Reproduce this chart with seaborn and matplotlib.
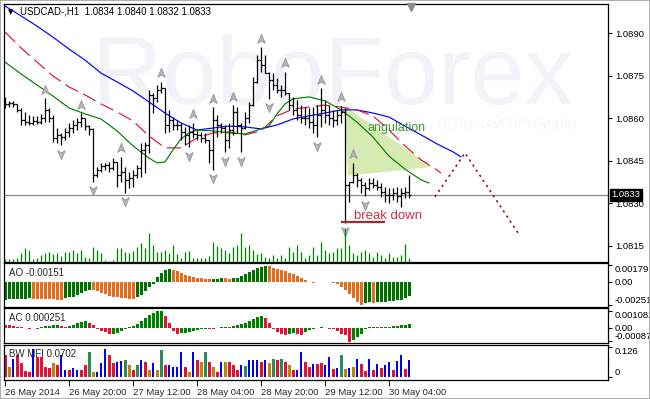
import numpy as np
import matplotlib
matplotlib.use("Agg")
import matplotlib.pyplot as plt
import seaborn as sns
from matplotlib.path import Path
from matplotlib.transforms import ScaledTranslation, blended_transform_factory
from matplotlib.patches import Polygon, Rectangle

# ---------------- data ----------------
title = "USDCAD-,H1  1.0834 1.0840 1.0832 1.0833"
first_open = 1.08640
high = [1.08676, 1.08661, 1.08661, 1.08651, 1.08637, 1.08623, 1.08612, 1.08609, 1.08609, 1.08616,
        1.08672, 1.08637, 1.08612, 1.08566, 1.08549, 1.08566, 1.08584, 1.08594, 1.08602, 1.08619,
        1.08602, 1.08577, 1.08566, 1.08429, 1.08443, 1.08443, 1.08446, 1.08460, 1.08446, 1.08464,
        1.08429, 1.08411, 1.08418, 1.08436, 1.08513, 1.08517, 1.08700, 1.08690, 1.08718, 1.08729,
        1.08707, 1.08630, 1.08605, 1.08594, 1.08584, 1.08570, 1.08577, 1.08584, 1.08559, 1.08552,
        1.08549, 1.08524, 1.08640, 1.08612, 1.08584, 1.08577, 1.08584, 1.08647, 1.08640, 1.08584,
        1.08623, 1.08658, 1.08746, 1.08824, 1.08852, 1.08824, 1.08764, 1.08760, 1.08743, 1.08718,
        1.08764, 1.08690, 1.08676, 1.08665, 1.08647, 1.08640, 1.08637, 1.08640, 1.08647, 1.08707,
        1.08665, 1.08647, 1.08630, 1.08630, 1.08644, 1.08637, 1.08376, 1.08443, 1.08407, 1.08390,
        1.08376, 1.08390, 1.08390, 1.08383, 1.08372, 1.08358, 1.08354, 1.08354, 1.08358, 1.08354,
        1.08358, 1.08400]
low = [1.08637, 1.08640, 1.08640, 1.08623, 1.08577, 1.08577, 1.08577, 1.08577, 1.08580, 1.08580,
       1.08587, 1.08587, 1.08517, 1.08513, 1.08506, 1.08524, 1.08534, 1.08549, 1.08559, 1.08570,
       1.08559, 1.08542, 1.08376, 1.08393, 1.08411, 1.08418, 1.08411, 1.08418, 1.08358, 1.08376,
       1.08337, 1.08354, 1.08358, 1.08390, 1.08393, 1.08407, 1.08478, 1.08619, 1.08658, 1.08690,
       1.08549, 1.08552, 1.08559, 1.08559, 1.08524, 1.08506, 1.08499, 1.08531, 1.08524, 1.08517,
       1.08513, 1.08443, 1.08418, 1.08534, 1.08549, 1.08481, 1.08496, 1.08542, 1.08549, 1.08481,
       1.08563, 1.08584, 1.08644, 1.08725, 1.08764, 1.08760, 1.08669, 1.08700, 1.08690, 1.08676,
       1.08683, 1.08630, 1.08612, 1.08594, 1.08584, 1.08577, 1.08566, 1.08549, 1.08534, 1.08570,
       1.08584, 1.08577, 1.08570, 1.08577, 1.08584, 1.08231, 1.08305, 1.08372, 1.08358, 1.08337,
       1.08326, 1.08347, 1.08354, 1.08347, 1.08323, 1.08305, 1.08301, 1.08312, 1.08305, 1.08287,
       1.08319, 1.08320]
close = [1.08651, 1.08654, 1.08651, 1.08630, 1.08594, 1.08587, 1.08584, 1.08591, 1.08587, 1.08602,
         1.08630, 1.08602, 1.08531, 1.08542, 1.08534, 1.08552, 1.08566, 1.08577, 1.08587, 1.08602,
         1.08573, 1.08563, 1.08400, 1.08418, 1.08432, 1.08436, 1.08425, 1.08446, 1.08400, 1.08411,
         1.08383, 1.08390, 1.08400, 1.08425, 1.08489, 1.08506, 1.08683, 1.08672, 1.08700, 1.08707,
         1.08577, 1.08594, 1.08577, 1.08577, 1.08552, 1.08542, 1.08552, 1.08545, 1.08542, 1.08531,
         1.08524, 1.08489, 1.08594, 1.08577, 1.08566, 1.08524, 1.08559, 1.08623, 1.08577, 1.08566,
         1.08602, 1.08647, 1.08729, 1.08806, 1.08789, 1.08760, 1.08736, 1.08718, 1.08700, 1.08700,
         1.08690, 1.08647, 1.08630, 1.08612, 1.08602, 1.08602, 1.08587, 1.08577, 1.08612, 1.08630,
         1.08612, 1.08602, 1.08594, 1.08612, 1.08623, 1.08365, 1.08376, 1.08400, 1.08383, 1.08365,
         1.08354, 1.08372, 1.08365, 1.08358, 1.08340, 1.08330, 1.08330, 1.08337, 1.08326, 1.08337,
         1.08340, 1.08330]
volume = [300, 300, 300, 400, 900, 1400, 1200, 300, 400, 700,
          900, 1000, 800, 900, 600, 1000, 1000, 1200, 900, 1200,
          500, 400, 1500, 1200, 900, 200, 150, 200, 1400, 1400,
          1000, 900, 1100, 1500, 1900, 1400, 2900, 1700, 1000, 1000,
          1200, 900, 1700, 800, 400, 1000, 1100, 400, 400, 400,
          400, 600, 2000, 1600, 1400, 1200, 900, 1500, 1700, 2900,
          1500, 1700, 1200, 800, 900, 500, 400, 700, 400, 700,
          400, 1500, 1000, 1700, 1000, 400, 700, 1500, 700, 2000,
          1200, 900, 1000, 1400, 1400, 3400, 1700, 900, 700, 1000,
          1200, 900, 500, 1000, 700, 400, 900, 500, 500, 700,
          1800, 400]

ao_before = -0.00194
ao = [-0.00192, -0.00190, -0.00188, -0.00187, -0.00185, -0.00183, -0.00180, -0.00182, -0.00184, -0.00186,
      -0.00187, -0.00188, -0.00190, -0.00192, -0.00193, -0.00180, -0.00170, -0.00160, -0.00145, -0.00125,
      -0.00100, -0.00085, -0.00090, -0.00105, -0.00120, -0.00135, -0.00150, -0.00160, -0.00170, -0.00175,
      -0.00180, -0.00182, -0.00183, -0.00165, -0.00140, -0.00105, -0.00060, -0.00020, 0.00045, 0.00090,
      0.00125, 0.00140, 0.00128, 0.00110, 0.00092, 0.00075, 0.00060, 0.00050, 0.00042, 0.00036,
      0.00030, 0.00025, 0.00030, 0.00033, 0.00036, 0.00034, 0.00032, 0.00036, 0.00042, 0.00060,
      0.00080, 0.00105, 0.00130, 0.00150, 0.00162, 0.00168, 0.00166, 0.00150, 0.00135, 0.00120,
      0.00110, 0.00095, 0.00080, 0.00060, 0.00040, 0.00020, -0.00005, -0.00010, -0.00008, -0.00006,
      -0.00004, -0.00008, -0.00015, -0.00030, -0.00055, -0.00090, -0.00130, -0.00175, -0.00215, -0.00250,
      -0.00230, -0.00222, -0.00226, -0.00222, -0.00218, -0.00214, -0.00210, -0.00205, -0.00200, -0.00193,
      -0.00180, -0.00151]

ac_before = 0.00025
ac = [0.00020, 0.00015, 0.00010, 0.00006, 0.00004, -0.00004, -0.00006, -0.00004, -0.00006, 0.00004,
      0.00008, 0.00012, 0.00016, 0.00018, 0.00012, 0.00006, 0.00010, 0.00018, 0.00028, 0.00036,
      0.00040, 0.00030, 0.00015, -0.00010, -0.00022, -0.00030, -0.00042, -0.00040, -0.00032, -0.00020,
      -0.00008, 0.00004, 0.00012, 0.00024, 0.00040, 0.00060, 0.00080, 0.00095, 0.00106, 0.00108,
      0.00075, 0.00028, -0.00025, -0.00040, -0.00038, -0.00033, -0.00028, -0.00022, -0.00015, -0.00010,
      -0.00006, -0.00008, -0.00010, -0.00005, 0.00004, 0.00005, 0.00004, 0.00008, 0.00014, 0.00022,
      0.00032, 0.00042, 0.00055, 0.00066, 0.00075, 0.00060, 0.00030, -0.00010, -0.00030, -0.00040,
      -0.00045, -0.00040, -0.00035, -0.00042, -0.00048, -0.00030, -0.00015, -0.00006, -0.00004, 0.00004,
      -0.00004, -0.00006, -0.00012, -0.00022, -0.00040, -0.00048, -0.00092, -0.00080, -0.00060, -0.00040,
      -0.00012, 0.00005, 0.00006, 0.00004, 0.00005, 0.00007, 0.00005, 0.00010, 0.00012, 0.00015,
      0.00018, 0.000251]

mfi = [0.092, 0.043, 0.076, 0.092, 0.057, 0.025, 0.022, 0.118, 0.085, 0.085,
       0.040, 0.036, 0.057, 0.050, 0.092, 0.029, 0.029, 0.036, 0.029, 0.029,
       0.050, 0.106, 0.022, 0.022, 0.057, 0.118, 0.092, 0.057, 0.064, 0.067,
       0.071, 0.050, 0.029, 0.050, 0.071, 0.064, 0.029, 0.057, 0.029, 0.113,
       0.050, 0.050, 0.043, 0.043, 0.106, 0.043, 0.022, 0.104, 0.071, 0.064,
       0.106, 0.064, 0.043, 0.022, 0.064, 0.064, 0.064, 0.050, 0.029, 0.050,
       0.048, 0.071, 0.071, 0.070, 0.064, 0.071, 0.060, 0.076, 0.071, 0.076,
       0.064, 0.050, 0.029, 0.029, 0.104, 0.064, 0.043, 0.055, 0.055, 0.057,
       0.050, 0.085, 0.034, 0.036, 0.092, 0.032, 0.036, 0.040, 0.076, 0.054,
       0.025, 0.074, 0.029, 0.054, 0.036, 0.050, 0.064, 0.029, 0.067, 0.092,
       0.034, 0.0702]
# S = squat, F = fade, K = fake, G = green
mfi_type = list("SFKSSSSKSS" "SSFSKKSKKS" "SGFKKKSSKK" "GFSGKSFKFG" "SKKKKSFKSF"
                "GSFSKFSSSK" "GKKKSKFGSG" "SFSKKSSKSS" "KKSKGFKFKS" "SKSKSKKSKK" "SK")

jaw_idx = [0, 4, 8, 12, 16, 20, 24, 28, 32, 36, 40, 44, 48, 52, 56, 60, 64, 68, 72, 76,
           80, 84, 88, 92, 96, 100, 104, 108, 112, 114]
jaw = [1.08997, 1.08962, 1.08926, 1.08887, 1.08845, 1.08806, 1.08760, 1.08729, 1.08697, 1.08658,
       1.08619, 1.08584, 1.08559, 1.08566, 1.08573, 1.08570, 1.08563, 1.08577, 1.08598, 1.08609,
       1.08619, 1.08630, 1.08630, 1.08619, 1.08605, 1.08573, 1.08542, 1.08510, 1.08482, 1.08464]
teeth_idx = [0, 4, 8, 12, 16, 20, 24, 28, 32, 36, 40, 44, 48, 52, 56, 60, 64, 68, 72, 76,
             80, 84, 88, 92, 96, 100, 104, 108, 109]
teeth = [1.08905, 1.08849, 1.08799, 1.08750, 1.08711, 1.08683, 1.08651, 1.08623, 1.08591, 1.08538,
         1.08496, 1.08496, 1.08531, 1.08549, 1.08552, 1.08542, 1.08556, 1.08609, 1.08633, 1.08640,
         1.08647, 1.08640, 1.08630, 1.08609, 1.08559, 1.08503, 1.08454, 1.08418, 1.08407]
lips_idx = [0, 4, 8, 12, 16, 20, 24, 28, 32, 36, 38, 40, 42, 44, 46, 48, 52, 56, 60, 64,
            66, 68, 70, 72, 76, 80, 84, 88, 92, 96, 100, 104, 106]
lips = [1.08799, 1.08757, 1.08718, 1.08679, 1.08637, 1.08616, 1.08598, 1.08556, 1.08503, 1.08460,
        1.08443, 1.08446, 1.08489, 1.08527, 1.08549, 1.08559, 1.08556, 1.08549, 1.08545, 1.08563,
        1.08573, 1.08616, 1.08651, 1.08669, 1.08676, 1.08662, 1.08630, 1.08587, 1.08534, 1.08467,
        1.08421, 1.08383, 1.08372]

frac_up = [10, 19, 29, 39, 47, 52, 57, 64, 70, 79, 84, 87]
frac_dn = [14, 22, 30, 46, 52, 55, 59, 66, 78, 85, 90]

price_ticks = [1.0890, 1.0875, 1.0860, 1.0845, 1.0830, 1.0815]
last_price = 1.0833
time_idx = [0, 16, 32, 48, 64, 80, 96]
time_labels = ["26 May 2014", "26 May 20:00", "27 May 12:00", "28 May 04:00",
               "28 May 20:00", "29 May 12:00", "30 May 04:00"]

breakdown_level = 1.08234
breakdown_from, breakdown_to = 84, 95
angle_x = [84.75, 85.75, 106.75]
angle_y = [1.08644, 1.08397, 1.08429]
forecast_x = [107.5, 115, 128.25]
forecast_y = [1.08323, 1.08478, 1.08196]

ao_ticks = [0.00179, 0.0, -0.00251]
ao_labels = ["0.00179", "0.00", "-0.00251"]
ac_ticks = [0.001082, 0.0, -0.00087]
ac_labels = ["0.001082", "0.00", "-0.00087"]
mfi_ticks = [0.126, 0.0]
mfi_labels = ["0.126", "0"]

# ---------------- style ----------------
sns.set_style("white")
plt.rcParams["font.family"] = ["Liberation Sans", "DejaVu Sans"]
FS = 6.8

W, H = 650, 399
fig = plt.figure(figsize=(6.5, 3.99), dpi=100)
fig.patch.set_facecolor("white")


def rect(l, t, r, b):
    return [l / W, 1 - b / H, (r - l) / W, (b - t) / H]


ax = fig.add_axes(rect(4, 4, 608, 262))
axv = fig.add_axes(rect(4, 4, 608, 262), facecolor="none")
ax_ao = fig.add_axes(rect(4, 263, 608, 307))
ax_ac = fig.add_axes(rect(4, 308, 608, 343))
ax_mfi = fig.add_axes(rect(4, 345, 608, 380))
XLIM = (-0.25, 150.75)

for a in (ax, ax_ao, ax_ac, ax_mfi):
    a.set_xlim(*XLIM)
    for s in a.spines.values():
        s.set_color("black")
        s.set_linewidth(0.9)
    a.yaxis.tick_right()
    a.tick_params(axis="y", which="both", left=False, right=True, labelleft=False,
                  labelright=True, length=3, width=0.8, pad=2, labelsize=FS, colors="black",
                  direction="out")
    a.tick_params(axis="x", bottom=False, labelbottom=False)
    a.set_facecolor("white")

idx = np.arange(len(high))
opens = [first_open] + close[:-1]

# ---- volumes (bottom of the main window) ----
axv.set_xlim(*XLIM)
axv.set_ylim(0, 25800)
axv.vlines(idx, 0, volume, color="#008000", lw=0.9)
axv.axis("off")

# ---- main chart ----
ax.set_ylim(1.08093, 1.09004)
ax.set_yticks(price_ticks)
ax.set_yticklabels([f"{p:.4f}" for p in price_ticks])

ax.text(0.146, 0.612, "RoboForex", transform=ax.transAxes, fontsize=70, color="#F2F3F6",
        ha="left", va="baseline", zorder=0)
ax.text(0.949, 0.531, "З – ПОЛУЧАЙ ПРИБЫЛЬ", transform=ax.transAxes, fontsize=10,
        color="#F5F6F8", ha="right", va="center", zorder=0)

ax.add_patch(Polygon(list(zip(angle_x, angle_y)), closed=True, facecolor="#D6EBB2",
                     edgecolor="none", zorder=1))
ax.axhline(last_price, color="#8C8C8C", lw=0.9, zorder=1.5)

sns.lineplot(x=jaw_idx, y=jaw, ax=ax, color="#0000FF", linewidth=0.85, estimator=None,
             sort=False, legend=False, zorder=2)
sns.lineplot(x=teeth_idx, y=teeth, ax=ax, color="#DC143C", linewidth=0.85, estimator=None,
             sort=False, legend=False, zorder=2)
ax.lines[-1].set_linestyle((0, (12, 5)))
sns.lineplot(x=lips_idx, y=lips, ax=ax, color="#008000", linewidth=0.85, estimator=None,
             sort=False, legend=False, zorder=2)

ax.vlines(idx, low, high, color="black", lw=0.9, zorder=3)
ax.hlines(opens, idx - 0.45, idx, color="black", lw=0.9, zorder=3)
ax.hlines(close, idx, idx + 0.45, color="black", lw=0.9, zorder=3)

up_v = [(0, 1), (0.72, -0.75), (0, -0.3), (-0.72, -0.75), (0, 1)]
codes = [Path.MOVETO, Path.LINETO, Path.LINETO, Path.LINETO, Path.CLOSEPOLY]
up_marker = Path(up_v, codes)
dn_marker = Path([(x, -y) for x, y in up_v], codes)
t_up = ax.transData + ScaledTranslation(0, 8.5 / 100, fig.dpi_scale_trans)
t_dn = ax.transData + ScaledTranslation(0, -8.5 / 100, fig.dpi_scale_trans)
ax.plot(frac_up, [high[i] for i in frac_up], ls="none", marker=up_marker, ms=7.5,
        mfc="#B4B4BA", mec="#9696A0", mew=0.6, transform=t_up, zorder=4)
ax.plot(frac_dn, [low[i] for i in frac_dn], ls="none", marker=dn_marker, ms=7.5,
        mfc="#B4B4BA", mec="#9696A0", mew=0.6, transform=t_dn, zorder=4)

ax.hlines(breakdown_level, breakdown_from, breakdown_to, color="#A52A2A", lw=1.6, zorder=4)
ax.text(87.25, 1.08256, "break down", fontsize=9.5, color="#C8324A", ha="left",
        va="center", zorder=5)
ax.text(90.5, 1.08566, "angulation", fontsize=9, color="#3E9A2C", ha="left",
        va="center", zorder=5)
ax.plot(forecast_x, forecast_y, color="#9A0000", lw=1.1, ls=(0, (1.5, 2.5)), zorder=4)

bt = blended_transform_factory(ax.transAxes, ax.transData)
ax.text(1.006, last_price, f"{last_price:.4f}", transform=bt, ha="left", va="center",
        fontsize=FS, color="white", zorder=10, clip_on=False,
        bbox=dict(boxstyle="square,pad=0.18", fc="black", ec="black"))
bt2 = blended_transform_factory(ax.transData, ax.transAxes)
ax.plot([len(high) - 0.5], [0.99], marker="v", ms=5.5, color="#8C8C8C", transform=bt2,
        clip_on=False, zorder=6)

ax.text(16 / 604, (262 - 12) / 258, title, transform=ax.transAxes, fontsize=7,
        ha="left", va="center", color="black", zorder=8)
ax.text(4 / 604, (262 - 12) / 258, "▼", transform=ax.transAxes, fontsize=5,
        ha="left", va="center", color="black", zorder=8, family=["DejaVu Sans"])

# ---- AO ----
ao_prev = [ao_before] + ao[:-1]
ao_cols = ["#007000" if v > p else "#E07020" for v, p in zip(ao, ao_prev)]
ax_ao.bar(idx, ao, width=0.75, color=ao_cols, linewidth=0)
ax_ao.set_ylim(-0.002725, 0.002005)
ax_ao.set_yticks(ao_ticks)
ax_ao.set_yticklabels(ao_labels)
ax_ao.text(5 / 604, 0.77, f"AO {ao[-1]:.5f}", transform=ax_ao.transAxes, fontsize=7,
           ha="left", va="center")

# ---- AC ----
ac_prev = [ac_before] + ac[:-1]
ac_cols = ["#008000" if v > p else "#DC143C" for v, p in zip(ac, ac_prev)]
ax_ac.bar(idx, ac, width=0.75, color=ac_cols, linewidth=0)
ax_ac.set_ylim(-0.0010, 0.001277)
ax_ac.set_yticks(ac_ticks)
ax_ac.set_yticklabels(ac_labels)
ax_ac.text(5 / 604, 0.714, f"AC {ac[-1]:.6f}", transform=ax_ac.transAxes, fontsize=7,
           ha="left", va="center")

# ---- BW MFI ----
mfi_colors = {"S": "#DC143C", "F": "#B8860B", "K": "#0000FF", "G": "#2E8B57"}
mfi_arr = np.array(mfi)
types = np.array(mfi_type)
for k in ["S", "F", "G"]:
    m = types == k
    ax_mfi.bar(idx[m], mfi_arr[m], width=0.75, color=mfi_colors[k], linewidth=0)
m = types == "K"
ax_mfi.bar(idx[m], mfi_arr[m], width=0.27, color=mfi_colors["K"], linewidth=0)
ax_mfi.set_ylim(-0.0126, 0.1344)
ax_mfi.set_yticks(mfi_ticks)
ax_mfi.set_yticklabels(mfi_labels)
ax_mfi.text(5 / 604, 0.743, f"BW MFI {mfi[-1]:.4f}", transform=ax_mfi.transAxes, fontsize=7,
            ha="left", va="center", zorder=6)

ax_mfi.set_xticks(time_idx)
ax_mfi.set_xticklabels(time_labels)
ax_mfi.tick_params(axis="x", bottom=True, labelbottom=True, length=4, width=0.8, pad=1.5,
                   labelsize=FS, direction="out")
for lbl in ax_mfi.get_xticklabels():
    lbl.set_ha("left")

# MT4-like label placement: top value hangs below the top, bottom value sits above the bottom
for a in (ax_ao, ax_ac, ax_mfi):
    labs = a.get_yticklabels()
    labs[0].set_va("top")
    labs[-1].set_va("bottom")

fig.patches.append(Rectangle((0, 0), 1, 1, transform=fig.transFigure, fill=False,
                             edgecolor="#A0A0A0", lw=1.2))

fig.savefig("out.png", dpi=100)
